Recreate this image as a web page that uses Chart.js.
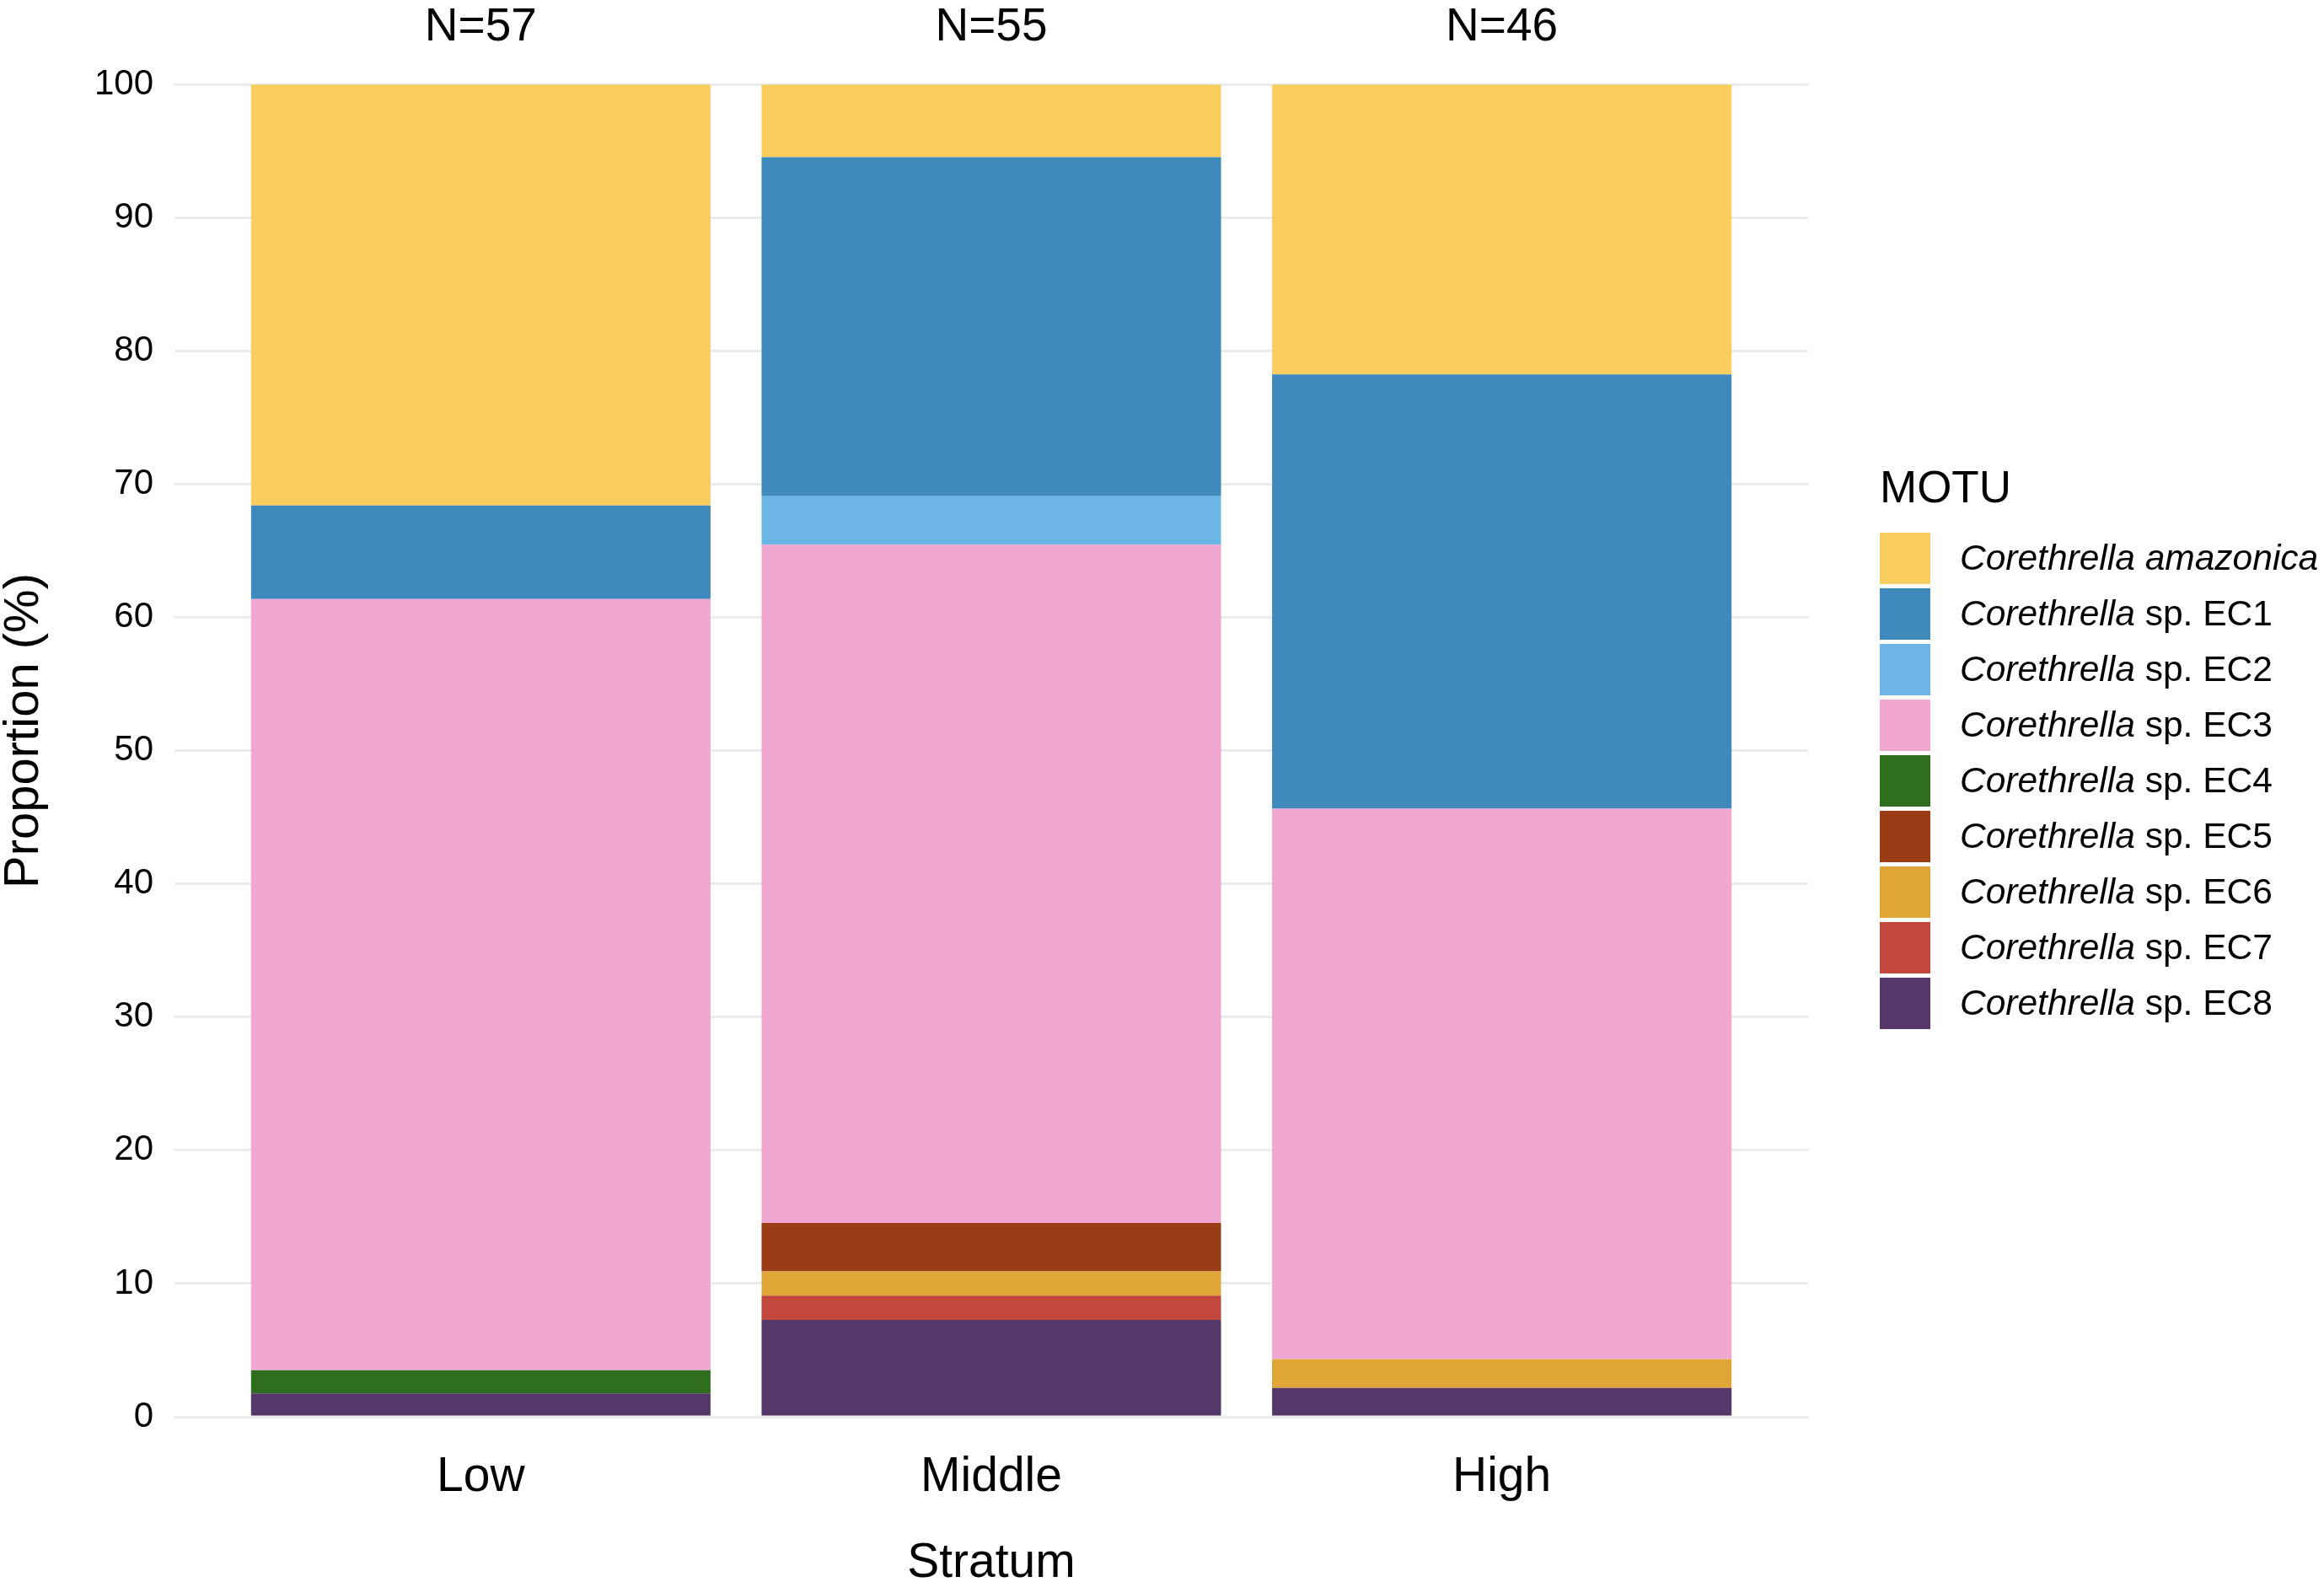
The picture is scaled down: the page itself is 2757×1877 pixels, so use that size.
<!DOCTYPE html>
<html>
<head>
<meta charset="utf-8">
<script src="https://cdn.jsdelivr.net/npm/chart.js@4.4.1/dist/chart.umd.min.js"></script>
<style>
	html, body { margin: 0; padding: 0; background: #fff; }
	#wrap { position: relative; width: 2757px; height: 1877px; font-family: "Liberation Sans", Arial, sans-serif; }
	#legend { position: absolute; left: 2230px; top: 551px; color: #000; }
	#legend .title { font-size: 53px; line-height: 54px; height: 78px; }
	#legend .row { display: flex; align-items: center; height: 66px; }
	#legend .key { width: 60px; height: 61px; margin-right: 35px; }
	#legend .lab { font-size: 42.5px; line-height: 66px; white-space: nowrap; }
</style>
</head>
<body>
<div id="wrap">
	<canvas id="chart"></canvas>
	<div id="legend"></div>
</div>
<script>
// strata on the x axis and sample sizes shown above the bars
const categories = ['Low', 'Middle', 'High'];
const sampleSizes = ['N=57', 'N=55', 'N=46'];
const yTicks = [0, 10, 20, 30, 40, 50, 60, 70, 80, 90, 100];
const yMax = 103;

// proportion (%) per stratum, order: Low, Middle, High
const amazonica = [31.58, 5.45, 21.74];
const ec1 = [7.02, 25.45, 32.61];
const ec2 = [0, 3.64, 0];
const ec3 = [57.89, 50.91, 41.30];
const ec4 = [1.75, 0, 0];
const ec5 = [0, 3.64, 0];
const ec6 = [0, 1.82, 2.17];
const ec7 = [0, 1.82, 0];
const ec8 = [1.75, 7.27, 2.17];

// legend order (top of stack first)
const motu = [
	{ genus: 'Corethrella', rest: 'amazonica', italicRest: true, color: '#F9CD5E', values: amazonica },
	{ genus: 'Corethrella', rest: 'sp. EC1', italicRest: false, color: '#3F89BC', values: ec1 },
	{ genus: 'Corethrella', rest: 'sp. EC2', italicRest: false, color: '#6DB5E5', values: ec2 },
	{ genus: 'Corethrella', rest: 'sp. EC3', italicRest: false, color: '#F0A7D2', values: ec3 },
	{ genus: 'Corethrella', rest: 'sp. EC4', italicRest: false, color: '#2E6E1C', values: ec4 },
	{ genus: 'Corethrella', rest: 'sp. EC5', italicRest: false, color: '#9A3D16', values: ec5 },
	{ genus: 'Corethrella', rest: 'sp. EC6', italicRest: false, color: '#E0A537', values: ec6 },
	{ genus: 'Corethrella', rest: 'sp. EC7', italicRest: false, color: '#C2473D', values: ec7 },
	{ genus: 'Corethrella', rest: 'sp. EC8', italicRest: false, color: '#553869', values: ec8 }
];

const catPos = categories.map((c, i) => i + 1);
const font = '"Liberation Sans", Arial, sans-serif';

// Chart.js stacks the first dataset at the bottom, so reverse the legend order
const datasets = motu.slice().reverse().map(m => ({
	label: m.genus + ' ' + m.rest,
	data: m.values.map((v, i) => ({ x: catPos[i], y: v })),
	backgroundColor: m.color,
	borderWidth: 0,
	barPercentage: 0.9,
	categoryPercentage: 1
}));

const setCatTicks = scale => { scale.ticks = catPos.map(v => ({ value: v })); };

new Chart(document.getElementById('chart'), {
	type: 'bar',
	data: { datasets },
	options: {
		responsive: true,
		maintainAspectRatio: false,
		animation: false,
		layout: { padding: { left: 0, right: 612, top: 0, bottom: 0 } },
		plugins: { legend: { display: false }, tooltip: { enabled: false } },
		scales: {
			x: {
				type: 'linear',
				stacked: true,
				offset: false,
				min: 0.4, max: 3.6,
				afterBuildTicks: setCatTicks,
				afterFit: s => { s.height = 196; },
				grid: { display: false, drawTicks: false },
				border: { display: false },
				ticks: {
					autoSkip: false, maxRotation: 0, padding: 44, color: '#000',
					font: { family: font, size: 57, lineHeight: 1 },
					callback: (v, i) => categories[i]
				},
				title: {
					display: true, text: 'Stratum', color: '#000',
					font: { family: font, size: 57, lineHeight: 0.75 },
					padding: { top: 0, bottom: 0 }
				}
			},
			xTop: {
				type: 'linear',
				position: 'top',
				offset: false,
				min: 0.4, max: 3.6,
				afterBuildTicks: setCatTicks,
				afterFit: s => { s.height = 53; },
				grid: { display: false, drawTicks: false },
				border: { display: false },
				ticks: {
					autoSkip: false, maxRotation: 0, padding: 0, color: '#000',
					font: { family: font, size: 55, lineHeight: 0.72 },
					callback: (v, i) => sampleSizes[i]
				}
			},
			y: {
				stacked: true,
				min: 0, max: yMax,
				afterBuildTicks: s => { s.ticks = yTicks.map(v => ({ value: v })); },
				afterFit: s => { s.width = 207; },
				grid: { color: '#EBEBEB', lineWidth: 3, drawTicks: false },
				border: { display: false },
				ticks: {
					padding: 25, color: '#000',
					font: { family: font, size: 42, lineHeight: 1 }
				},
				title: {
					display: true, text: 'Proportion (%)', color: '#000',
					font: { family: font, size: 58, lineHeight: 1 },
					padding: { top: 0, bottom: 0 }
				}
			}
		}
	}
});

// legend with italic genus names
const legend = document.getElementById('legend');
let html = '<div class="title">MOTU</div>';
motu.forEach(m => {
	const rest = m.italicRest ? `<i>${m.rest}</i>` : m.rest;
	html += `<div class="row"><div class="key" style="background:${m.color}"></div>` +
		`<div class="lab"><i>${m.genus}</i> ${rest}</div></div>`;
});
legend.innerHTML = html;
</script>
</body>
</html>
